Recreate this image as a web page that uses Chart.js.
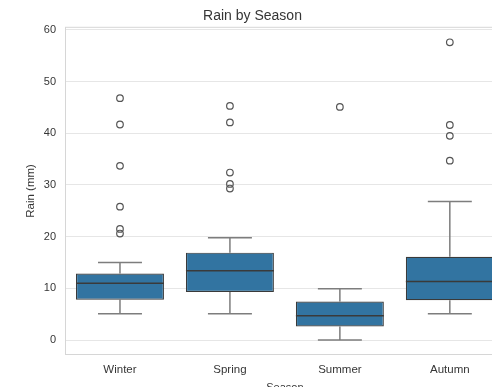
<!DOCTYPE html>
<html>
<head>
<meta charset="utf-8">
<script src="https://cdn.jsdelivr.net/npm/chart.js@4/dist/chart.umd.min.js"></script>
<style>
  html, body { margin: 0; padding: 0; background: #fff; overflow: hidden; width: 492px; height: 387px; }
  canvas { display: block; }
</style>
</head>
<body>
<canvas id="c" width="510" height="395"></canvas>
<script>
// Rainfall (mm) summary per season
const seasons = ['Winter', 'Spring', 'Summer', 'Autumn'];
const lowerWhisker = [5.1, 5.1, 0.0, 5.1];
const q1 = [7.8, 9.3, 2.6, 7.7];
const median = [11.0, 13.4, 4.7, 11.3];
const q3 = [12.85, 16.9, 7.45, 16.1];
const upperWhisker = [15.0, 19.8, 9.9, 26.8];

const outliersWinter = [46.8, 41.7, 33.7, 25.8, 21.5, 20.6];
const outliersSpring = [45.3, 42.1, 32.4, 30.2, 29.3];
const outliersSummer = [45.1];
const outliersAutumn = [57.6, 41.6, 39.5, 34.7];

const yTicks = [0, 10, 20, 30, 40, 50, 60];

const outlierPoints = [
  ...outliersWinter.map(v => ({ x: 'Winter', y: v })),
  ...outliersSpring.map(v => ({ x: 'Spring', y: v })),
  ...outliersSummer.map(v => ({ x: 'Summer', y: v })),
  ...outliersAutumn.map(v => ({ x: 'Autumn', y: v }))
];

const FONT = "'Liberation Sans', Arial, sans-serif";
const TEXT = '#363636';

// Draws the plot frame, whiskers, caps and median lines from the scales
const boxExtras = {
  id: 'boxExtras',
  beforeDatasetsDraw(chart) {
    const { ctx, chartArea: a, scales: { x, y } } = chart;
    ctx.save();
    ctx.strokeStyle = '#d6d6d6';
    ctx.lineWidth = 1;
    ctx.strokeRect(a.left + 0.5, a.top + 0.5, a.right - a.left - 1, a.bottom - a.top - 1);

    const band = x.getPixelForValue(1) - x.getPixelForValue(0);
    const capHalf = band * 0.8 / 4;
    ctx.strokeStyle = '#7d7d7d';
    ctx.lineWidth = 1.5;
    seasons.forEach((s, i) => {
      const cx = x.getPixelForValue(i);
      ctx.beginPath();
      ctx.moveTo(cx, y.getPixelForValue(q3[i]));
      ctx.lineTo(cx, y.getPixelForValue(upperWhisker[i]));
      ctx.moveTo(cx, y.getPixelForValue(q1[i]));
      ctx.lineTo(cx, y.getPixelForValue(lowerWhisker[i]));
      const yt = y.getPixelForValue(upperWhisker[i]);
      const yb = y.getPixelForValue(lowerWhisker[i]);
      ctx.moveTo(cx - capHalf, yt); ctx.lineTo(cx + capHalf, yt);
      ctx.moveTo(cx - capHalf, yb); ctx.lineTo(cx + capHalf, yb);
      ctx.stroke();
    });
    ctx.restore();
  },
  afterDatasetsDraw(chart) {
    const { ctx, scales: { x, y } } = chart;
    const band = x.getPixelForValue(1) - x.getPixelForValue(0);
    const half = band * 0.8 / 2;
    ctx.save();
    ctx.strokeStyle = '#3a3a3a';
    ctx.lineWidth = 1.5;
    seasons.forEach((s, i) => {
      const cx = x.getPixelForValue(i);
      const my = y.getPixelForValue(median[i]);
      ctx.beginPath();
      ctx.moveTo(cx - half, my);
      ctx.lineTo(cx + half, my);
      ctx.stroke();
    });
    ctx.restore();
  }
};

new Chart(document.getElementById('c'), {
  type: 'bar',
  data: {
    labels: seasons,
    datasets: [
      {
        type: 'line',
        label: 'Outliers',
        data: outlierPoints,
        showLine: false,
        pointRadius: 3.3,
        pointBorderWidth: 1.2,
        pointBackgroundColor: 'rgba(255,255,255,0)',
        pointBorderColor: '#555555',
        order: 0
      },
      {
        label: 'Rain (mm)',
        data: seasons.map((s, i) => [q1[i], q3[i]]),
        backgroundColor: '#3274a1',
        borderColor: '#3a3a3a',
        borderWidth: 1.2,
        borderSkipped: false,
        barPercentage: 0.8,
        categoryPercentage: 1.0,
        order: 1
      }
    ]
  },
  options: {
    responsive: false,
    animation: false,
    devicePixelRatio: 1,
    layout: { padding: { left: 0, right: 5, top: 0, bottom: 0 } },
    plugins: {
      legend: { display: false },
      tooltip: { enabled: false },
      title: {
        display: true,
        text: 'Rain by Season',
        color: TEXT,
        font: { family: FONT, size: 14, weight: 'normal' },
        padding: { top: 8, bottom: 2 }
      }
    },
    scales: {
      x: {
        type: 'category',
        offset: true,
        grid: { display: false, drawTicks: false },
        border: { display: false },
        ticks: { color: TEXT, font: { family: FONT, size: 11.5 }, padding: 8 },
        title: {
          display: true,
          text: 'Season',
          color: TEXT,
          font: { family: FONT, size: 11 },
          padding: { top: 5, bottom: 0 }
        },
        afterFit(scale) { scale.height = 40; }
      },
      y: {
        min: -2.9,
        max: 60.6,
        grid: { color: '#e6e6e6', lineWidth: 1, drawTicks: false },
        border: { display: false },
        ticks: {
          includeBounds: false,
          color: TEXT,
          font: { family: FONT, size: 11 },
          padding: 9
        },
        afterBuildTicks(scale) { scale.ticks = yTicks.map(v => ({ value: v })); },
        title: {
          display: true,
          text: 'Rain (mm)',
          color: TEXT,
          font: { family: FONT, size: 11.5 },
          padding: { top: 24, bottom: 0 }
        },
        afterFit(scale) { scale.width = 65; }
      }
    }
  },
  plugins: [boxExtras]
});
</script>
</body>
</html>
